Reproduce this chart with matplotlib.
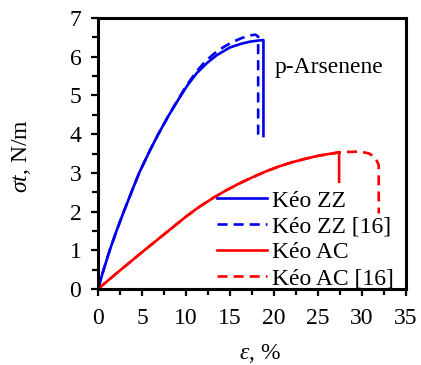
import matplotlib
matplotlib.use("Agg")
import matplotlib.pyplot as plt
from matplotlib.ticker import MultipleLocator

# Data
zz_x = [0, 0.6, 1.33, 2.1, 2.93, 3.8, 4.68, 5.9, 6.85, 8.0, 9.1, 10.1, 11.2, 12.4, 13.5, 15.0, 16.2, 17.3, 18.3, 18.8, 18.8]
zz_y = [0, 0.47, 1.0, 1.5, 2.0, 2.5, 3.0, 3.58, 4.0, 4.47, 4.88, 5.24, 5.57, 5.84, 6.04, 6.24, 6.33, 6.39, 6.42, 6.43, 3.95]

zz16_x = [0, 0.6, 1.33, 2.1, 2.93, 3.8, 4.68, 5.9, 6.85, 8.0, 9.1, 10.1, 11.2, 12.2, 13.2, 14.2, 15.2, 16.3, 17.3, 17.9, 18.2, 18.2]
zz16_y = [0, 0.47, 1.0, 1.5, 2.0, 2.5, 3.0, 3.58, 4.0, 4.47, 4.9, 5.27, 5.62, 5.88, 6.08, 6.24, 6.37, 6.48, 6.55, 6.57, 6.52, 3.95]

ac_x = [0, 2.5, 5.0, 7.5, 10.0, 11.5, 13.0, 14.5, 16.0, 17.5, 19.0, 20.5, 22.0, 23.5, 25.0, 26.3, 27.4, 27.4]
ac_y = [0, 0.48, 0.95, 1.41, 1.87, 2.12, 2.34, 2.54, 2.72, 2.88, 3.03, 3.16, 3.27, 3.36, 3.44, 3.49, 3.53, 2.77]

ac16_x = [0, 2.5, 5.0, 7.5, 10.0, 11.5, 13.0, 14.5, 16.0, 17.5, 19.0, 20.5, 22.0, 23.5, 25.0, 26.3, 27.4, 28.3, 29.8, 30.8, 31.5, 31.9, 31.9]
ac16_y = [0, 0.48, 0.95, 1.41, 1.87, 2.12, 2.34, 2.54, 2.72, 2.88, 3.03, 3.16, 3.27, 3.36, 3.44, 3.49, 3.53, 3.54, 3.55, 3.5, 3.4, 3.2, 1.95]

labels = ["Kéo ZZ", "Kéo ZZ [16]", "Kéo AC", "Kéo AC [16]"]

plt.rcParams['font.family'] = ['Liberation Serif', 'DejaVu Serif']
plt.rcParams['mathtext.fontset'] = 'custom'
plt.rcParams['mathtext.rm'] = 'Liberation Serif'
plt.rcParams['mathtext.it'] = 'Liberation Serif:italic'

FS = 17

fig = plt.figure(figsize=(4.21, 3.65), dpi=100)
ax = fig.add_axes([98/421, 1-289/365, (406-98)/421, (289-18)/365])

blue = '#0000ee'
red = '#ff0000'
lw = 1.9
dash = (0, (3.8, 2.3))
ax.plot(zz_x, zz_y, color=blue, lw=lw, label=labels[0])
ax.plot(zz16_x, zz16_y, color=blue, lw=lw, ls=dash, label=labels[1])
ax.plot(ac_x, ac_y, color=red, lw=lw, label=labels[2])
ax.plot(ac16_x, ac16_y, color=red, lw=lw, ls=dash, label=labels[3])

ax.set_xlim(0, 35)
ax.set_ylim(0, 7)
ax.xaxis.set_major_locator(MultipleLocator(5))
ax.xaxis.set_minor_locator(MultipleLocator(2.5))
ax.yaxis.set_major_locator(MultipleLocator(1))
ax.yaxis.set_minor_locator(MultipleLocator(0.5))
ax.tick_params(which='both', direction='out', width=1.6, labelsize=FS)
ax.tick_params(which='major', length=5)
ax.tick_params(which='minor', length=4)
ax.tick_params(axis='x', pad=9)
ax.tick_params(axis='y', pad=7)
for s in ax.spines.values():
    s.set_linewidth(2.2)

ax.text(20.1, 5.73, "p-Arsenene", fontsize=FS, color='black', va='center', ha='left')

ax.set_xlabel(r"$\varepsilon$, %", fontsize=FS)
ax.set_ylabel(r"$\sigma t$, N/m", fontsize=FS)
ax.xaxis.set_label_coords(0.526, -0.195)
ax.yaxis.set_label_coords(-0.211, 0.49)

leg = ax.legend(loc='lower right', frameon=False, fontsize=FS,
                handlelength=2.1, handletextpad=0.2, labelspacing=0.18,
                borderaxespad=0.0, bbox_to_anchor=(0.99, -0.035))

fig.savefig("out.png", dpi=100)
